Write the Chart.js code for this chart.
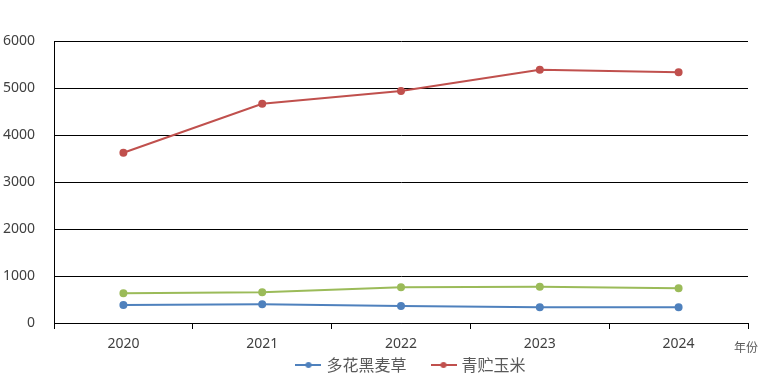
<!DOCTYPE html>
<html>
<head>
<meta charset="utf-8">
<script src="https://cdn.jsdelivr.net/npm/chart.js@4/dist/chart.umd.min.js"></script>
<style>
html,body{margin:0;padding:0;background:#fff;}
#wrap{width:780px;height:380px;}
</style>
</head>
<body>
<div id="wrap"><canvas id="c" width="780" height="380"></canvas></div>
<script>
const years = ['2020','2021','2022','2023','2024'];
const ryegrass = [383, 398, 362, 334, 334];      // 多花黑麦草
const silageCorn = [3623, 4666, 4936, 5390, 5334]; // 青贮玉米
const thirdSeries = [632, 653, 760, 773, 738];
const yTicks = [0, 1000, 2000, 3000, 4000, 5000, 6000];
const xAxisName = '年份';

function legendMarker(color) {
  const cv = document.createElement('canvas');
  cv.width = 26; cv.height = 10;
  const g = cv.getContext('2d');
  g.strokeStyle = color; g.lineWidth = 2;
  g.beginPath(); g.moveTo(0, 5); g.lineTo(26, 5); g.stroke();
  g.fillStyle = color;
  g.beginPath(); g.arc(13, 5, 3, 0, Math.PI * 2); g.fill();
  return cv;
}

const layoutTweak = {
  id: 'layoutTweak',
  afterLayout(chart) {
    const lg = chart.legend;
    lg.top = chart.chartArea.bottom + 7;
    lg.bottom = chart.height;
    lg.height = lg.bottom - lg.top;
    lg.left += 76;
    lg.width = lg.right - lg.left;
  }
};

const axisUnitPlugin = {
  id: 'axisUnit',
  afterDraw(chart) {
    const ctx = chart.ctx;
    const xs = chart.scales.x;
    ctx.save();
    ctx.font = '12px "Noto Sans CJK SC", sans-serif';
    ctx.fillStyle = '#595959';
    ctx.textAlign = 'center';
    ctx.textBaseline = 'middle';
    ctx.fillText(xAxisName, xs.right - 2, xs.top + 24);
    ctx.restore();
  }
};

new Chart(document.getElementById('c'), {
  type: 'line',
  data: {
    labels: years,
    datasets: [
      {label: '多花黑麦草', data: ryegrass, borderColor: '#4F81BD', backgroundColor: '#4F81BD', borderWidth: 2, pointRadius: 3, pointHoverRadius: 3, tension: 0, pointStyle: 'circle'},
      {label: '青贮玉米', data: silageCorn, borderColor: '#C0504D', backgroundColor: '#C0504D', borderWidth: 2, pointRadius: 3, pointHoverRadius: 3, tension: 0, pointStyle: 'circle'},
      {label: '', data: thirdSeries, borderColor: '#9BBB59', backgroundColor: '#9BBB59', borderWidth: 2, pointRadius: 3, pointHoverRadius: 3, tension: 0, pointStyle: 'circle'}
    ]
  },
  options: {
    responsive: false,
    animation: false,
    layout: {padding: {top: 41, right: 32, left: 0, bottom: 0}},
    plugins: {
      tooltip: {enabled: false},
      legend: {
        position: 'bottom',
        maxHeight: 29,
        labels: {
          filter: (item) => item.datasetIndex !== 2,
          usePointStyle: true,
          pointStyleWidth: 20,
          padding: 27,
          color: '#595959',
          font: {family: '"Noto Sans CJK SC", sans-serif', size: 16},
          generateLabels(chart) {
            const items = Chart.defaults.plugins.legend.labels.generateLabels(chart);
            return items.map(i => Object.assign(i, {pointStyle: legendMarker(chart.data.datasets[i.datasetIndex].borderColor)}));
          }
        }
      }
    },
    scales: {
      x: {
        offset: true,
        grid: {offset: true, drawOnChartArea: false, drawTicks: true, tickLength: 6, color: '#000', lineWidth: 1},
        border: {color: '#000', width: 1},
        ticks: {color: '#404040', font: {family: '"Noto Sans", sans-serif', size: 14}, padding: 7, maxRotation: 0},
        afterFit(s) { s.height = 28; }
      },
      y: {
        min: 0, max: 6000,
        afterBuildTicks(s) { s.ticks = yTicks.map(v => ({value: v})); },
        grid: {color: '#000', lineWidth: 1, drawTicks: false},
        border: {color: '#000', width: 1},
        ticks: {color: '#404040', font: {family: '"Noto Sans", sans-serif', size: 14}, padding: 19, callback: (v) => String(v)},
        afterFit(s) { s.width = 54; }
      }
    }
  },
  plugins: [layoutTweak, axisUnitPlugin]
});
</script>
</body>
</html>
